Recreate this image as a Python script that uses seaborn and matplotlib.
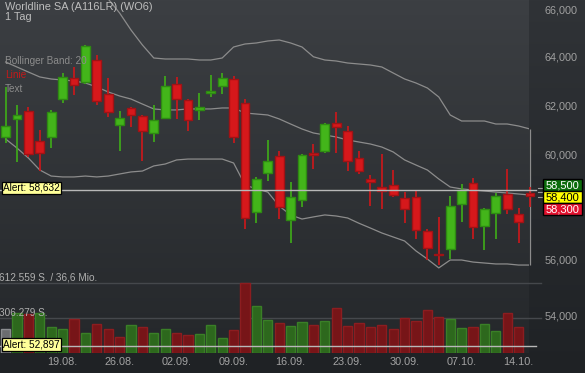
import numpy as np
import pandas as pd
import matplotlib
matplotlib.use("Agg")
import matplotlib.pyplot as plt
import matplotlib.transforms as mtransforms
from matplotlib.patches import Rectangle
from matplotlib.lines import Line2D
from matplotlib.colors import to_hex
from matplotlib.ticker import FixedLocator, FixedFormatter, NullLocator
import seaborn as sns

plt.rcParams['font.family'] = ['Liberation Sans', 'DejaVu Sans']

# ---------------- data ----------------
title = "Worldline SA (A116LR) (WO6)"
period = "1 Tag"
legend_items = ["Bollinger Band: 20", "Linie", "Text"]
dates = pd.bdate_range("2024-08-12", "2024-10-15")

opens = [60.720, 61.420, 61.745, 60.540, 60.720, 62.230, 63.125, 62.960, 63.865, 62.440,
         61.180, 61.865, 61.545, 60.860, 61.485, 62.850, 62.195, 61.785, 62.480, 62.795,
         63.060, 62.070, 57.775, 59.275, 59.945, 57.470, 58.235, 60.060, 60.165, 61.260,
         60.950, 59.890, 59.045, 58.735, 58.810, 58.335, 58.350, 57.060, 56.215, 56.385,
         58.080, 58.890, 57.245, 57.740, 58.465, 57.723, 58.525]
highs = [62.750, 61.990, 61.910, 60.990, 61.800, 63.310, 63.585, 64.500, 64.075, 63.100,
         61.770, 61.930, 61.595, 61.990, 63.195, 63.140, 62.235, 62.480, 63.240, 63.310,
         63.195, 62.235, 59.135, 60.590, 60.155, 58.940, 60.045, 60.430, 61.285, 61.730,
         61.150, 60.140, 59.200, 60.035, 59.405, 58.540, 58.630, 57.145, 57.585, 58.400,
         58.860, 59.095, 57.925, 58.525, 59.435, 57.927, 58.735]
lows = [60.470, 59.730, 59.930, 59.380, 60.260, 62.070, 62.410, 62.850, 62.000, 61.525,
        60.165, 61.100, 59.770, 60.520, 61.435, 61.445, 60.940, 61.380, 62.315, 62.440,
        60.480, 57.135, 57.380, 58.990, 57.510, 56.630, 57.990, 59.435, 60.085, 60.085,
        59.380, 59.240, 58.025, 57.915, 58.350, 57.360, 56.780, 55.990, 55.805, 56.040,
        57.420, 56.780, 56.360, 56.760, 57.700, 56.609, 57.965]
closes = [61.150, 61.580, 60.020, 60.090, 61.700, 63.140, 62.820, 64.455, 62.180, 61.715,
          61.460, 61.585, 60.950, 61.380, 62.770, 62.235, 61.395, 61.910, 62.565, 63.100,
          60.720, 57.545, 59.055, 59.760, 57.975, 58.360, 59.995, 59.985, 61.230, 61.100,
          59.760, 59.365, 58.925, 58.590, 58.425, 57.900, 57.095, 56.425, 56.190, 58.005,
          58.640, 57.230, 57.890, 58.385, 57.900, 57.396, 58.400]

volumes = [204000, 344000, 334000, 347000, 219000, 206000, 291000, 173000, 249000, 202000,
           134000, 237000, 219000, 167000, 204000, 167000, 157500, 162000, 239000, 123500,
           193500, 612559, 411000, 281000, 262500, 233500, 267000, 245000, 278000, 389000,
           228500, 254500, 226000, 241500, 202000, 298500, 275500, 373000, 313500, 289000,
           214500, 219500, 250000, 188000, 346500, 223000]

bb_upper = [66.930, 66.870, 66.845, 66.905, 66.970, 66.925, 66.845, 66.750, 66.700, 66.480,
            65.870, 65.137, 64.498, 63.948, 63.906, 63.906, 63.906, 63.864, 63.864, 63.948,
            64.413, 64.540, 64.583, 64.668, 64.710, 64.583, 64.413, 64.000, 63.864, 63.822,
            63.738, 63.696, 63.654, 63.571, 63.320, 63.071, 62.905, 62.698, 62.328, 61.595,
            61.352, 61.352, 61.352, 61.231, 61.231, 61.150, 61.030]
bb_middle = [63.780, 63.570, 63.360, 63.155, 63.070, 63.030, 62.990, 62.905, 62.740, 62.535,
             62.370, 62.245, 62.040, 61.840, 61.800, 61.800, 61.840, 61.840, 61.840, 61.880,
             61.880, 61.675, 61.635, 61.595, 61.435, 61.230, 61.030, 60.870, 60.790, 60.710,
             60.590, 60.510, 60.430, 60.310, 60.115, 59.800, 59.600, 59.405, 59.055, 58.745,
             58.670, 58.630, 58.590, 58.550, 58.515, 58.475, 58.435]
bb_lower = [60.630, 60.270, 59.875, 59.405, 59.170, 59.135, 59.135, 59.170, 59.135, 59.170,
            59.250, 59.330, 59.365, 59.565, 59.640, 59.800, 59.835, 59.835, 59.835, 59.835,
            59.680, 58.825, 58.670, 58.550, 58.015, 57.675, 57.520, 57.600, 57.675, 57.635,
            57.560, 57.360, 57.180, 56.995, 56.845, 56.695, 56.325, 56.025, 55.700, 55.990,
            55.990, 55.915, 55.880, 55.845, 55.845, 55.805, 55.805]

price_ticks = [54.0, 56.0, 60.0, 62.0, 64.0, 66.0]
date_labels = ["19.08.", "26.08.", "02.09.", "09.09.", "16.09.", "23.09.", "30.09.", "07.10.", "14.10."]
alert_levels = [58.632, 52.897]
quote_values = [58.500, 58.400, 58.300]
vol_max_text = "612.559 S. / 36,6 Mio."
vol_half_text = "306.279 S."


def de(v, nd=3):
    return f"{v:,.{nd}f}".replace(",", "X").replace(".", ",").replace("X", ".")


# ---------------- layout ----------------
W, H = 585, 373
PX, PB = 529.0, 352.5        # plot area right edge / bottom (pixels)
fig = plt.figure(figsize=(W / 100, H / 100), dpi=100)

# background gradient
bg = fig.add_axes([0, 0, 1, 1], zorder=-10)
yy, xx = np.mgrid[0:H, 0:W]
t = (yy / (H - 1))[..., None]
inside = ((xx < PX) & (yy < PB))[..., None]
c_in_top, c_in_bot = np.array([60, 63, 67]) / 255, np.array([35, 38, 41]) / 255
c_out_top, c_out_bot = np.array([48, 51, 55]) / 255, np.array([31, 34, 37]) / 255
img = np.where(inside, c_in_top * (1 - t) + c_in_bot * t, c_out_top * (1 - t) + c_out_bot * t)
bg.imshow(img, extent=[0, W, H, 0], aspect='auto', interpolation='nearest')
bg.axis('off')

ax = fig.add_axes([0, (H - PB) / H, PX / W, PB / H])
vax = ax.twinx()
ax.set_zorder(vax.get_zorder() + 1)
ax.patch.set_visible(False)
vax.patch.set_visible(False)
ax.set_yscale('log')

# ---------------- volume ----------------
cl = np.array(closes)
vol_dir = ["flat"] + ["up" if cl[i] > cl[i - 1] else "down" for i in range(1, len(volumes))]
vdf = pd.DataFrame({"idx": np.arange(len(volumes)), "vol": volumes, "dir": vol_dir})
vol_fill = {"flat": "#6b6d70", "up": "#2d681d", "down": "#771518"}
vol_edge = {"flat": "#8b8d90", "up": "#3a7f27", "down": "#8c1d20"}
sns.barplot(data=vdf, x="idx", y="vol", hue="dir", palette=vol_fill, native_scale=True,
            dodge=False, width=0.8, legend=False, ax=vax, linewidth=1, saturation=1)
f2e = {to_hex(vol_fill[k]): vol_edge[k] for k in vol_fill}
for p in vax.patches:
    p.set_edgecolor(f2e.get(to_hex(p.get_facecolor()), p.get_facecolor()))
vmax = max(volumes)
vax.set_ylim(0, vmax * PB / 70.0)
for lev in (vmax, vmax / 2):
    vax.axhline(lev, xmin=0, xmax=541 / PX, color='#45484c', lw=1, clip_on=False, zorder=0)
vtr = mtransforms.blended_transform_factory(vax.transAxes, vax.transData)
vax.text(-1 / PX, vmax, vol_max_text, transform=vtr, va='bottom', ha='left',
         fontsize=7.2, color='#b0b0b0')
vax.text(-1 / PX, vmax / 2, vol_half_text, transform=vtr, va='bottom', ha='left',
         fontsize=7.2, color='#b0b0b0')
vax.set_xlabel('')
vax.set_ylabel('')
vax.yaxis.set_visible(False)

# ---------------- bollinger bands ----------------
idx = np.arange(len(opens))
band_color = '#8c8c8c'
for arr in (bb_upper, bb_middle, bb_lower):
    sns.lineplot(x=idx, y=arr, ax=ax, color=band_color, lw=0.9, zorder=2)
ax.vlines(idx[-1], bb_lower[-1], bb_upper[-1], color=band_color, lw=0.9, zorder=2, clip_on=False)

# ---------------- candles ----------------
o, h, l, c = map(np.array, (opens, highs, lows, closes))
up = c >= o
body_fill = np.where(up, '#43b51a', '#d6181b')
body_edge = np.where(up, '#2e8b12', '#a01215')
wick_col = np.where(up, '#3fae18', '#cf171a')
wl = ax.vlines(idx, l, h, colors=wick_col, lw=1.2, zorder=3)
wl.set_clip_on(False)
bars = ax.bar(idx, np.abs(c - o), bottom=np.minimum(o, c), width=0.78, color=body_fill,
              edgecolor=body_edge, lw=1, zorder=4)
for b in bars:
    b.set_clip_on(False)

# ---------------- alerts ----------------
atr = mtransforms.blended_transform_factory(ax.transAxes, ax.transData)
for a in alert_levels:
    ax.axhline(a, xmin=0, xmax=536 / PX, color='#b8b8b8', lw=1, clip_on=False, zorder=5)
    ax.text(3 / PX, a, "Alert: " + de(a), transform=atr + mtransforms.ScaledTranslation(0, 2 / 72 * 0.72, fig.dpi_scale_trans),
            va='center', ha='left', fontsize=7.2, color='black', zorder=6,
            bbox=dict(boxstyle='square,pad=0.12', fc='#ffff99', ec='black', lw=0.9))

# ---------------- axes & ticks ----------------
ax.set_ylim(52.685, 66.435)
ax.set_xlim(-0.4912, 45.912)
ax.yaxis.tick_right()
ax.yaxis.set_major_locator(FixedLocator(price_ticks))
ax.yaxis.set_minor_locator(NullLocator())
ax.yaxis.set_major_formatter(FixedFormatter([de(v) for v in price_ticks]))
ax.tick_params(axis='y', which='both', length=0, pad=11.5, labelsize=7.8, labelcolor='#a0a0a0',
               right=True, labelright=True, left=False, labelleft=False)
tick_pos = [i for i, d in enumerate(dates) if d.strftime("%d.%m.") in date_labels]
tick_lab = [dates[i].strftime("%d.%m.") for i in tick_pos]
ax.set_xticks(tick_pos)
ax.set_xticklabels(tick_lab)
ax.xaxis.set_minor_locator(NullLocator())
ax.tick_params(axis='x', which='both', length=0, pad=3.2, labelsize=7.8, labelcolor='#a3a3a3')
ax.set_xlabel('')
ax.set_ylabel('')
for a_ in (ax, vax):
    for s in a_.spines.values():
        s.set_visible(False)
ax.grid(False)
vax.grid(False)


# ---------------- texts ----------------
def fx(x):
    return x / W


def fy(y):
    return 1 - y / H


fig.text(fx(5), fy(7.5), title, va='center', ha='left', fontsize=7.9, color='#bdbdbd')
fig.text(fx(5), fy(17.5), period, va='center', ha='left', fontsize=7.9, color='#bdbdbd')
for txt, yv, col in zip(legend_items, (60.5, 74.5, 89), ('#8c8c8c', '#c41a1a', '#8c8c8c')):
    fig.text(fx(5), fy(yv), txt, va='center', ha='left', fontsize=7.2, color=col)

# quote boxes
q_fill = ['#0b6c0b', '#ffff00', '#e2112e']
q_text = ['white', 'black', 'white']
for k, (qv, fcol, tcol) in enumerate(zip(quote_values, q_fill, q_text)):
    y0 = 179.3 + 12 * k
    fig.add_artist(Rectangle((fx(543.3), fy(y0 + 12)), (582 - 543.3) / W, 12 / H,
                             transform=fig.transFigure, fc=fcol, ec='black', lw=1.0, zorder=10))
    fig.text(fx(562.7), fy(y0 + 6.2), de(qv), va='center', ha='center', fontsize=8,
             color=tcol, zorder=11)
for yv in (187.7, 191.7, 196.7):
    fig.add_artist(Line2D([fx(538.3), fx(542.3)], [fy(yv), fy(yv)], transform=fig.transFigure,
                          color='#9a9a9a', lw=0.8))

fig.savefig("out.png", dpi=100)
